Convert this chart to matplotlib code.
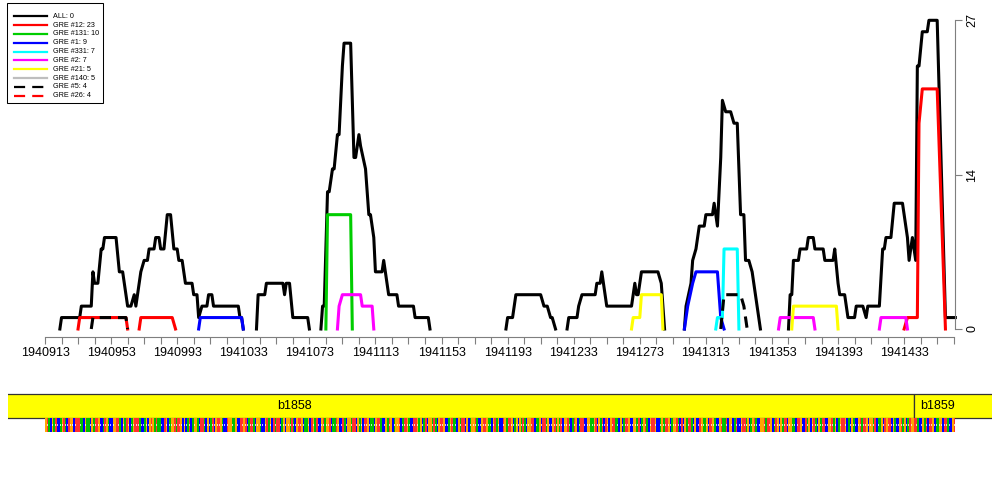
import numpy as np
import matplotlib
matplotlib.use('Agg')
import matplotlib.pyplot as plt
from matplotlib.patches import Rectangle
from matplotlib.lines import Line2D

plt.rcParams['font.family'] = ['Liberation Sans', 'DejaVu Sans']

# ---- 数据 ----
# ALL 覆盖度 (None = 断开)
all_pos = [1940922, 1940923, 1940934, 1940935, 1940941, 1940942, 1940943, 1940945, 1940947, 1940948,
           1940949, 1940956, 1940958, 1940960, 1940963, 1940965, 1940967, 1940968, 1940969, 1940970,
           1940971, 1940973, 1940975, 1940976, 1940979, 1940980, 1940982, 1940983, 1940985, 1940987,
           1940989, 1940991, 1940993, 1940994, 1940996, 1940998, 1941002, 1941003, 1941005, 1941006,
           1941008, 1941011, 1941012, 1941014, 1941015, 1941030, 1941031, 1941032, 1941033, None,
           1941041, 1941042, 1941046, 1941047, 1941057, 1941058, 1941059, 1941061, 1941063, 1941072,
           1941073, None,
           1941080, 1941081, 1941082, 1941084, 1941085, 1941087, 1941088, 1941090, 1941091, 1941092,
           1941093, 1941094, 1941098, 1941100, 1941101, 1941103, 1941104, 1941107, 1941109, 1941110,
           1941112, 1941113, 1941117, 1941118, 1941121, 1941126, 1941127, 1941136, 1941137, 1941145,
           1941146, None,
           1941192, 1941193, 1941196, 1941198, 1941213, 1941215, 1941217, 1941219, 1941220, 1941222, None,
           1941229, 1941230, 1941235, 1941236, 1941238, 1941246, 1941247, 1941249, 1941250, 1941253,
           1941268, 1941270, 1941271, 1941272, 1941274, 1941284, 1941286, 1941288, None,
           1941300, 1941301, 1941304, 1941305, 1941307, 1941309, 1941312, 1941313, 1941317, 1941318,
           1941320, 1941321, 1941322, 1941323, 1941325, 1941328, 1941330, 1941332, 1941334, 1941336,
           1941337, 1941339, 1941341, 1941346, None,
           1941363, 1941364, 1941365, 1941366, 1941369, 1941370, 1941374, 1941375, 1941378, 1941379,
           1941384, 1941385, 1941390, 1941391, 1941393, 1941394, 1941397, 1941399, 1941403, 1941404,
           1941408, 1941410, 1941411, 1941418, 1941420, 1941421, 1941422, 1941425, 1941427, 1941432,
           1941434, 1941435, 1941436, 1941438, 1941440, 1941441, 1941442, 1941444, 1941447, 1941448,
           1941453, 1941458, 1941464]
all_val = [0, 1, 1, 2, 2, 5, 4, 4, 7, 7,
           8, 8, 5, 5, 2, 2, 3, 2, 3, 4,
           5, 6, 6, 7, 7, 8, 8, 7, 7, 10,
           10, 7, 7, 6, 6, 4, 4, 3, 3, 1,
           2, 2, 3, 3, 2, 2, 1, 1, 0, None,
           0, 3, 3, 4, 4, 3, 4, 4, 1, 1,
           0, None,
           0, 2, 2, 12, 12, 14, 14, 17, 17, 20,
           23, 25, 25, 15, 15, 17, 16, 14, 10, 10,
           8, 5, 5, 6, 3, 3, 2, 2, 1, 1,
           0, None,
           0, 1, 1, 3, 3, 2, 2, 1, 1, 0, None,
           0, 1, 1, 2, 3, 3, 4, 4, 5, 2,
           2, 4, 3, 3, 5, 5, 4, 0, None,
           0, 2, 4, 6, 7, 9, 9, 10, 10, 11,
           9, 12, 15, 20, 19, 19, 18, 18, 10, 10,
           6, 6, 5, 0, None,
           0, 3, 3, 6, 6, 7, 7, 8, 8, 7,
           7, 6, 6, 7, 4, 3, 3, 1, 1, 2,
           2, 1, 2, 2, 7, 7, 8, 8, 11, 11,
           9, 8, 6, 8, 6, 23, 23, 26, 26, 27,
           27, 1, 1]

gre12_pos = [1940933, 1940934, 1940962, 1940963, None, 1940970, 1940971, 1940990, 1940992, None,
             1941433, 1941435, 1941441, 1941442, 1941444, 1941453, 1941458]
gre12_val = [0, 1, 1, 0, None, 0, 1, 1, 0, None, 0, 1, 1, 18, 21, 21, 0]

gre131_pos = [1941083, 1941084, 1941098, 1941099]
gre131_val = [0, 10, 10, 0]

gre1_pos = [1941006, 1941007, 1941032, 1941033, None,
            1941300, 1941302, 1941305, 1941307, 1941320, 1941322, 1941324]
gre1_val = [0, 1, 1, 0, None, 0, 2, 4, 5, 5, 1, 0]

gre331_pos = [1941319, 1941320, 1941323, 1941324, 1941332, 1941333]
gre331_val = [0, 1, 1, 7, 7, 0]

gre2_pos = [1941090, 1941091, 1941093, 1941104, 1941105, 1941111, 1941112, None,
            1941357, 1941358, 1941378, 1941379, None,
            1941418, 1941419, 1941434, 1941435]
gre2_val = [0, 2, 3, 3, 2, 2, 0, None, 0, 1, 1, 0, None, 0, 1, 1, 0]

gre21_pos = [1941268, 1941269, 1941273, 1941274, 1941286, 1941287, None,
             1941365, 1941366, 1941392, 1941393]
gre21_val = [0, 1, 1, 3, 3, 0, None, 0, 2, 2, 0]

gre5_pos = [1940941, 1940942, 1940962, 1940963, None,
            1941322, 1941324, 1941334, 1941336, 1941338]
gre5_val = [0, 1, 1, 0, None, 0, 3, 3, 2, 0]

legend_labels = ['ALL: 0', 'GRE #12: 23', 'GRE #131: 10', 'GRE #1: 9', 'GRE #331: 7',
                 'GRE #2: 7', 'GRE #21: 5', 'GRE #140: 5', 'GRE #5: 4', 'GRE #26: 4']
legend_colors = ['black', '#FF0000', '#00CD00', '#0000FF', '#00FFFF',
                 '#FF00FF', '#FFFF00', '#BEBEBE', 'black', '#FF0000']
legend_dashed = [False] * 8 + [True, True]

x_start, x_end = 1940913, 1941463
y_ticks = [0, 13.5, 27]
y_ticklabels = ['0', '14', '27']

gene_names = ['b1858', 'b1859']
gene_starts = [1940600, 1941439]
gene_ends = [1941439, 1941600]
gene_label_pos = [1941064, 1941453]

seq = "".join([
    "GTACGATCCA", "GTACTGGCTT", "TAACGAACGA", "TTGCCATGAC", "CGGTTACGAT",
    "GCAGTTTACC", "AGCGTGATAA", "CCTGCAGGTA", "TTGCGCATCA", "GGACTTACGC",
    "ATCGTTGACC", "TGGAAGCCTT", "GTCATTACGG", "ACCGTAGCTA", "TTCAGCGGAT",
    "ACGTTGCAAG", "CTGATCCGTA", "GGTCAATGCC", "TACGGATTCG", "AGCTTGCAAC",
    "GTTACCGATG", "CAGGTCATTG", "ACCTTGAGCA", "TCGGATACGT", "TGCCAGTAAC",
    "GATTCGCAGG", "TACCGTTGAA", "CGTAGCCTGA", "TTGCAGCGAT", "ACGGTTCAAG",
    "CTTAGCCGTA", "GATCGGTACA", "TGCATTCCGG", "AAGTCGATCT", "GCGTTAACGC",
    "ATTGCCGGAT", "CAGTACGTTG", "CCAGATTGCA", "GGTACTCGAT", "TACGCCTGAA",
    "GCTTGACCGT", "AATCGGCATC", "CGTTAGCAGT", "ACCGGTATTG", "CATGCGATTC",
    "GGAACTTGCC", "TAGCGTACGA", "TTCCGGTAGC", "AGTTGCACGA", "CCGTATTGCG",
    "GATCAAGCTG", "TTCGACCGTA", "GCATGGTTAC", "CGATCTTGCA", "AGGCTTACCG", "T"])
base_colors = {'A': '#00C000', 'C': '#0000FF', 'G': '#FFA500', 'T': '#FF3030'}

# ---- 画图 ----
ppb = 908.7 / 550.0          # 每个碱基的像素数
fig = plt.figure(figsize=(10, 5), dpi=100)

ax = fig.add_axes([45 / 1000, 1 - 329 / 500, 910 / 1000, 308.7 / 500])
ax.set_xlim(x_start, x_start + 910 / ppb)
ax.set_ylim(0, 27)

series = [
    (all_pos, all_val, 'black', False),
    (gre12_pos, gre12_val, '#FF0000', False),
    (gre131_pos, gre131_val, '#00CD00', False),
    (gre1_pos, gre1_val, '#0000FF', False),
    (gre331_pos, gre331_val, '#00FFFF', False),
    (gre2_pos, gre2_val, '#FF00FF', False),
    (gre21_pos, gre21_val, '#FFFF00', False),
    (gre5_pos, gre5_val, 'black', True),
]
for pos, val, col, dashed in series:
    x = np.array(pos, dtype=float)
    y = np.array(val, dtype=float)
    ln, = ax.plot(x, y, color=col, lw=2.2, clip_on=False, solid_joinstyle='round')
    if dashed:
        ln.set_dashes((3.7, 2.3))

for s in ['left', 'top']:
    ax.spines[s].set_visible(False)
ax.spines['bottom'].set_position(('outward', 5.5))
ax.spines['bottom'].set_bounds(x_start, x_end)
ax.spines['bottom'].set_color('#7f7f7f')
ax.spines['right'].set_color('#7f7f7f')
ax.spines['bottom'].set_linewidth(0.8)
ax.spines['right'].set_linewidth(0.8)

xt = np.arange(x_start, x_end + 1, 10)
ax.set_xticks(xt)
ax.set_xticklabels([str(v) if (v - x_start) % 40 == 0 else '' for v in xt])
ax.tick_params(axis='x', length=5, width=0.8, color='#7f7f7f', labelsize=9, pad=2.5)

ax.yaxis.tick_right()
ax.set_yticks(y_ticks)
ax.set_yticklabels(y_ticklabels, rotation=90, va='center')
ax.tick_params(axis='y', length=5, width=0.8, color='#7f7f7f', labelsize=9, pad=3)

# 基因轨道 + 序列
trk = fig.add_axes([8 / 1000, 1 - 435 / 500, 984 / 1000, 45 / 500])
trk.set_xlim(x_start - 37 / ppb, x_start + 947 / ppb)
trk.set_ylim(435, 390)
trk.axis('off')
for name, s0, s1, lp in zip(gene_names, gene_starts, gene_ends, gene_label_pos):
    trk.add_patch(Rectangle((s0, 393.8), s1 - s0, 24.3, facecolor='#FFFF00',
                            edgecolor='#333333', lw=0.9))
    trk.text(lp, 406.5, name, ha='center', va='center', fontsize=9)
bp = x_start + np.arange(len(seq))
trk.bar(bp, 13.5, bottom=418.3, width=1.0, align='edge',
        color=[base_colors[b] for b in seq], linewidth=0)
# 字母中间的白点
trk.bar(bp + 0.35, 1.3, bottom=424.5, width=0.3, align='edge',
        color='white', alpha=0.75, linewidth=0)

# 图例
lg = fig.add_axes([0, 0, 1, 1], zorder=5)
lg.set_xlim(0, 1000)
lg.set_ylim(500, 0)
lg.axis('off')
lg.add_patch(Rectangle((7.3, 3.3), 95.4, 99.4, fill=False, edgecolor='black', lw=0.75))
for i, (lab, col, dsh) in enumerate(zip(legend_labels, legend_colors, legend_dashed)):
    yy = 16.2 + i * 8.83
    l = Line2D([14, 46.7], [yy, yy], color=col, lw=1.6)
    if dsh:
        l.set_dashes((5, 3.2))
    lg.add_line(l)
    lg.text(53.3, yy, lab, fontsize=5.2, va='center', ha='left')

fig.savefig('out.png', dpi=100)
